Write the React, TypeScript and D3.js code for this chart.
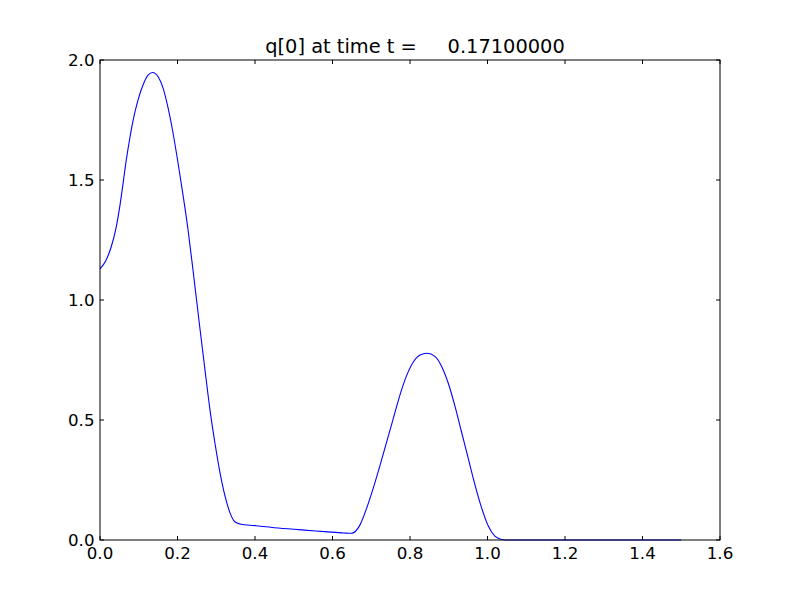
import React from "react";
import * as d3 from "d3";

const xs = [0, 0.016, 0.029, 0.042, 0.051, 0.059, 0.068, 0.077, 0.085, 0.098, 0.111, 0.124, 0.136, 0.150, 0.163, 0.176, 0.188, 0.201, 0.214, 0.227, 0.240, 0.258, 0.271, 0.284, 0.297, 0.310, 0.323, 0.336, 0.348, 0.361, 0.40, 0.46, 0.52, 0.58, 0.63, 0.649, 0.671, 0.688, 0.705, 0.723, 0.740, 0.757, 0.774, 0.792, 0.809, 0.826, 0.844, 0.865, 0.882, 0.899, 0.916, 0.933, 0.951, 0.968, 0.985, 1.002, 1.019, 1.037, 1.045, 1.5];
const ys = [1.130, 1.167, 1.222, 1.305, 1.389, 1.480, 1.585, 1.675, 1.745, 1.833, 1.896, 1.937, 1.948, 1.930, 1.882, 1.798, 1.700, 1.575, 1.440, 1.295, 1.125, 0.880, 0.708, 0.540, 0.400, 0.278, 0.181, 0.111, 0.076, 0.067, 0.060, 0.050, 0.042, 0.035, 0.029, 0.028, 0.063, 0.132, 0.215, 0.313, 0.410, 0.507, 0.604, 0.688, 0.743, 0.771, 0.778, 0.764, 0.722, 0.652, 0.558, 0.450, 0.336, 0.228, 0.133, 0.058, 0.016, 0.002, 0, 0];
const xTicks = [0, 0.2, 0.4, 0.6, 0.8, 1.0, 1.2, 1.4, 1.6];
const yTicks = [0, 0.5, 1.0, 1.5, 2.0];
const title = "q[0] at time t =     0.17100000";

export default function App() {
  const W = 800, H = 600;
  const L = 100, R = 720, T = 60, B = 540;
  const x = d3.scaleLinear().domain([0, 1.6]).range([L, R]);
  const y = d3.scaleLinear().domain([0, 2]).range([B, T]);
  const pts = xs.map((v, i) => [v, ys[i]] as [number, number]);
  const line = d3.line<[number, number]>().x(d => x(d[0])).y(d => y(d[1])).curve(d3.curveMonotoneX);
  const font = "DejaVu Sans";
  const fs = 16.67;
  return (
    <svg width={W} height={H} style={{ position: "absolute", left: 0, top: 0, background: "#fff" }} fontFamily={font}>
      <rect x={0} y={0} width={W} height={H} fill="#fff" />
      <path d={line(pts) || ""} fill="none" stroke="#0000ff" strokeWidth={1.1} />
      <rect x={L} y={T} width={R - L} height={B - T} fill="none" stroke="#000" strokeWidth={1} />
      {xTicks.map(t => (
        <g key={"x" + t}>
          <line x1={x(t)} x2={x(t)} y1={B} y2={B - 4} stroke="#000" />
          <line x1={x(t)} x2={x(t)} y1={T} y2={T + 4} stroke="#000" />
          <text x={x(t)} y={B + 19} textAnchor="middle" fontSize={fs}>{t.toFixed(1)}</text>
        </g>
      ))}
      {yTicks.map(t => (
        <g key={"y" + t}>
          <line x1={L} x2={L + 4} y1={y(t)} y2={y(t)} stroke="#000" />
          <line x1={R} x2={R - 4} y1={y(t)} y2={y(t)} stroke="#000" />
          <text x={L - 5.5} y={y(t) + 6} textAnchor="end" fontSize={fs}>{t.toFixed(1)}</text>
        </g>
      ))}
      <text x={(L + R) / 2 + 5} y={T - 7} textAnchor="middle" fontSize={19.4} style={{ whiteSpace: "pre" }}>{title}</text>
    </svg>
  );
}
